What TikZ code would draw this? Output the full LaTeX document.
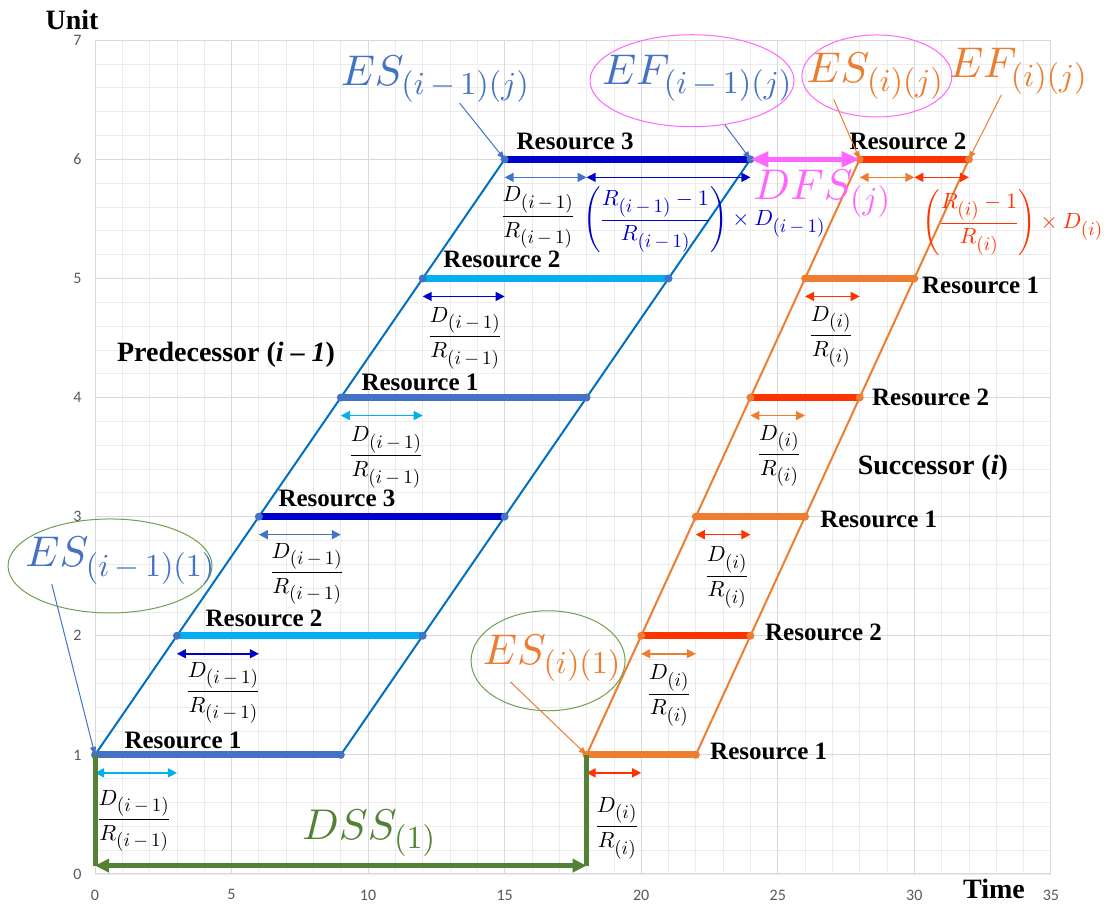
\documentclass[tikz,border=0pt]{standalone}
\usepackage{amsmath}
\usepackage[no-math]{fontspec}
\setmainfont{Liberation Serif}
\newfontfamily\tickfont{Carlito}
\usepackage{tikz}
\usetikzlibrary{arrows.meta,calc,shapes.geometric}
% scalable math fonts
\DeclareFontShape{OML}{cmm}{m}{it}{<->cmmi10}{}
\DeclareFontShape{OT1}{cmr}{m}{n}{<->cmr10}{}
\DeclareFontShape{OMS}{cmsy}{m}{n}{<->cmsy10}{}
\DeclareFontShape{OMX}{cmex}{m}{n}{<->cmex10}{}
\DeclareMathSizes{22}{22}{19}{15}
\DeclareMathSizes{43}{43}{32}{24}
\definecolor{pmid}{RGB}{68,114,196}
\definecolor{pcyan}{RGB}{0,176,240}
\definecolor{pdark}{RGB}{0,0,204}
\definecolor{diagblue}{RGB}{0,112,192}
\definecolor{orng}{RGB}{237,125,49}
\definecolor{sred}{RGB}{255,51,0}
\definecolor{dssgreen}{RGB}{84,130,53}
\definecolor{ringgreen}{RGB}{112,160,80}
\definecolor{dfspink}{RGB}{255,102,255}
\definecolor{gridlt}{RGB}{236,236,236}
\definecolor{griddk}{RGB}{217,217,217}
\definecolor{tickgray}{RGB}{89,89,89}
\newcommand{\imo}{i\mkern3mu{-}\mkern3mu1}
\newcommand{\dpred}{$\dfrac{D_{(\imo)}}{R_{(\imo)}}$}
\newcommand{\dsucc}{$\dfrac{D_{(i)}}{R_{(i)}}$}

\begin{document}
\begin{tikzpicture}[
  x=27.31pt, y=119.1pt,
  gridminor/.style={draw=gridlt, line width=0.8pt},
  gridmajor/.style={draw=griddk, line width=1pt},
  tick/.style={font=\tickfont\fontsize{16}{18}\selectfont, text=tickgray, inner sep=1pt},
  axlbl/.style={font=\fontsize{28}{32}\selectfont\bfseries, inner sep=0pt},
  res/.style={font=\fontsize{25}{28}\selectfont\bfseries, inner sep=0pt},
  grp/.style={font=\fontsize{28}{32}\selectfont\bfseries, inner sep=0pt},
  bar/.style={line width=7pt},
  pdiag/.style={draw=diagblue, line width=2pt},
  sdiag/.style={draw=orng, line width=2pt},
  dur/.style={{Triangle[length=9pt,width=9pt]}-{Triangle[length=9pt,width=9pt]}, line width=1.5pt},
  frac/.style={font=\fontsize{22}{26}\selectfont, inner sep=0pt},
  big/.style={font=\fontsize{43}{50}\selectfont, inner sep=0pt},
  ring/.style={ellipse, draw, line width=1pt, inner sep=0pt},
  ann/.style={-{Triangle[length=8pt,width=6pt]}, line width=1pt},
  dssline/.style={draw=dssgreen, line width=5pt},
  dssarr/.style={{Triangle[length=14pt,width=13pt]}-{Triangle[length=14pt,width=13pt]}, draw=dssgreen, line width=5pt},
  dfsarr/.style={{Triangle[length=18pt,width=15pt]}-{Triangle[length=18pt,width=15pt]}, draw=dfspink, line width=5pt},
]
\path[use as bounding box, fill=white] (-3.4786,-0.2519) rectangle (37.422,7.338);

% ============ grid and axes ============
\draw[gridminor, step={(1,0.2)}] (0,0) grid (35,7);
\draw[gridmajor, step={(5,1)}] (0,0) grid (35,7);
\foreach \t in {0,5,...,35} \node[tick] (xt\t) at (\t,-0.176) {\t};
\foreach \t in {0,...,7} \node[tick, anchor=east] (yt\t) at (-0.45,\t) {\t};
\node[axlbl] (unit) at (-0.84,7.17) {Unit};
\node[axlbl] (time) at (32.92,-0.126) {Time};

% ============ bar end points ============
\coordinate (pa1) at (0,1);  \coordinate (pb1) at (9,1);
\coordinate (pa2) at (3,2);  \coordinate (pb2) at (12,2);
\coordinate (pa3) at (6,3);  \coordinate (pb3) at (15,3);
\coordinate (pa4) at (9,4);  \coordinate (pb4) at (18,4);
\coordinate (pa5) at (12,5); \coordinate (pb5) at (21,5);
\coordinate (pa6) at (15,6); \coordinate (pb6) at (24,6);
\coordinate (sa1) at (18,1); \coordinate (sb1) at (22,1);
\coordinate (sa2) at (20,2); \coordinate (sb2) at (24,2);
\coordinate (sa3) at (22,3); \coordinate (sb3) at (26,3);
\coordinate (sa4) at (24,4); \coordinate (sb4) at (28,4);
\coordinate (sa5) at (26,5); \coordinate (sb5) at (30,5);
\coordinate (sa6) at (28,6); \coordinate (sb6) at (32,6);

% ============ PREDECESSOR ============
\draw[pdiag] (pa1) -- (pa6);
\draw[pdiag] (pb1) -- (pb6);
\draw[bar, pmid]  (pa1) -- (pb1);
\draw[bar, pcyan] (pa2) -- (pb2);
\draw[bar, pdark] (pa3) -- (pb3);
\draw[bar, pmid]  (pa4) -- (pb4);
\draw[bar, pcyan] (pa5) -- (pb5);
\draw[bar, pdark] (pa6) -- (pb6);
\foreach \p in {pa1,pb1,pa2,pb2,pa3,pb3,pa4,pb4,pa5,pb5,pa6,pb6}
  \fill[pmid] (\p) circle (4pt);

\draw[dur, pcyan] ([yshift=-18pt]pa1) -- ++(3,0);
\draw[dur, pdark] ([yshift=-18pt]pa2) -- ++(3,0);
\draw[dur, pmid]  ([yshift=-18pt]pa3) -- ++(3,0);
\draw[dur, pcyan] ([yshift=-18pt]pa4) -- ++(3,0);
\draw[dur, pdark] ([yshift=-18pt]pa5) -- ++(3,0);
\draw[dur, pmid]  ([yshift=-18pt]pa6) -- ++(3,0);
\draw[dur, pdark] ([yshift=-18pt]pb6) -- ++(-6,0);

\node[frac] (fp1) at (1.43,0.445) {\dpred};
\node[frac] (fp2) at (4.69,1.52)  {\dpred};
\node[frac] (fp3) at (7.76,2.52)  {\dpred};
\node[frac] (fp4) at (10.66,3.50) {\dpred};
\node[frac] (fp5) at (13.55,4.50) {\dpred};
\node[frac] (fp6) at (16.22,5.51) {\dpred};
\node[frac, text=pdark, anchor=west] (fq1) at (17.87,5.49)
  {$\left(\dfrac{R_{(\imo)}-1}{R_{(\imo)}}\right)\times D_{(\imo)}$};

\node[res] (rp1) at (3.22,1.125) {Resource 1};
\node[res] (rp2) at (6.19,2.15)  {Resource 2};
\node[res] (rp3) at (8.86,3.15)  {Resource 3};
\node[res] (rp4) at (11.9,4.13)  {Resource 1};
\node[res] (rp5) at (14.9,5.16)  {Resource 2};
\node[res] (rp6) at (17.58,6.15) {Resource 3};
\node[grp] (pred) at (4.80,4.36) {Predecessor (\textit{i} – \textit{1})};

% ============ SUCCESSOR ============
\draw[sdiag] (sa1) -- (sa6);
\draw[sdiag] (sb1) -- (sb6);
\draw[bar, orng] (sa1) -- (sb1);
\draw[bar, sred] (sa2) -- (sb2);
\draw[bar, orng] (sa3) -- (sb3);
\draw[bar, sred] (sa4) -- (sb4);
\draw[bar, orng] (sa5) -- (sb5);
\draw[bar, sred] (sa6) -- (sb6);
\foreach \p in {sa1,sb1,sa2,sb2,sa3,sb3,sa4,sb4,sa5,sb5,sa6,sb6}
  \fill[orng] (\p) circle (4pt);

\draw[dur, sred] ([yshift=-18pt]sa1) -- ++(2,0);
\draw[dur, orng] ([yshift=-18pt]sa2) -- ++(2,0);
\draw[dur, sred] ([yshift=-18pt]sa3) -- ++(2,0);
\draw[dur, orng] ([yshift=-18pt]sa4) -- ++(2,0);
\draw[dur, sred] ([yshift=-18pt]sa5) -- ++(2,0);
\draw[dur, orng] ([yshift=-18pt]sa6) -- ++(2,0);
\draw[dur, sred] ([yshift=-18pt]sb6) -- ++(-2,0);

\node[frac] (fs1) at (19.11,0.386) {\dsucc};
\node[frac] (fs2) at (21.02,1.50)  {\dsucc};
\node[frac] (fs3) at (23.14,2.49)  {\dsucc};
\node[frac] (fs4) at (25.05,3.51)  {\dsucc};
\node[frac] (fs5) at (26.95,4.51)  {\dsucc};
\node[frac, text=sred, anchor=west] (fq2) at (30.28,5.466)
  {$\left(\dfrac{R_{(i)}-1}{R_{(i)}}\right)\times D_{(i)}$};

\node[res, anchor=west] (rs1) at (22.52,1.025) {Resource 1};
\node[res, anchor=west] (rs2) at (24.53,2.03)  {Resource 2};
\node[res, anchor=west] (rs3) at (26.55,2.98)  {Resource 1};
\node[res, anchor=west] (rs4) at (28.45,4.0)   {Resource 2};
\node[res, anchor=west] (rs5) at (30.28,4.94)  {Resource 1};
\node[res] (rs6) at (29.77,6.15) {Resource 2};
\node[grp] (succ) at (30.68,3.41) {Successor (\textit{i})};

% ============ DSS / DFS ============
\coordinate (dssL) at (0,0.07);
\coordinate (dssR) at (18,0.07);
\draw[dssline] (pa1) -- (dssL);
\draw[dssline] (sa1) -- (dssR);
\draw[dssarr] (dssL) -- (dssR);
\node[big, text=dssgreen] (dss) at (10.03,0.344) {$DSS_{(1)}$};
\draw[dfsarr] (pb6) -- (sa6);
\node[big, text=dfspink] (dfs) at (26.62,5.71) {$DFS_{(j)}$};

% ============ start / finish callouts ============
\node[ring, draw=ringgreen, minimum width=204pt, minimum height=94pt] (ringP1) at (0.55,2.586) {};
\node[ring, draw=dfspink, minimum width=204pt, minimum height=92pt] (ringPj) at (21.86,6.66) {};
\node[ring, draw=dfspink, minimum width=150pt, minimum height=82pt] (ringSj) at (28.63,6.70) {};
\node[ring, draw=ringgreen, minimum width=154pt, minimum height=100pt] (ringS1) at (16.59,1.79) {};

\node[big, text=pmid] (esP1) at (0.92,2.63)  {$ES_{(\imo)(1)}$};
\node[big, text=pmid] (esPj) at (12.45,6.67) {$ES_{(\imo)(j)}$};
\node[big, text=pmid] (efPj) at (22.04,6.68) {$EF_{(\imo)(j)}$};
\node[big, text=orng] (esSj) at (28.56,6.70) {$ES_{(i)(j)}$};
\node[big, text=orng] (efSj) at (33.80,6.74) {$EF_{(i)(j)}$};
\node[big, text=orng] (esS1) at (16.73,1.81) {$ES_{(i)(1)}$};

\draw[ann, pmid] ($(esP1.south west)!0.14!(esP1.south east)$) -- (pa1);
\draw[ann, pmid] ($(esPj.south west)!0.63!(esPj.south east)$) -- (pa6);
\draw[ann, pmid] (ringPj) -- (pb6);
\draw[ann, orng] ($(esSj.south west)!0.2!(esSj.south east)$) -- (sa6);
\draw[ann, orng] ($(efSj.south west)!0.38!(efSj.south east)$) -- (sb6);
\draw[ann, orng] ($(esS1.south west)!0.2!(esS1.south east)$) -- (sa1);
\end{tikzpicture}
\end{document}
